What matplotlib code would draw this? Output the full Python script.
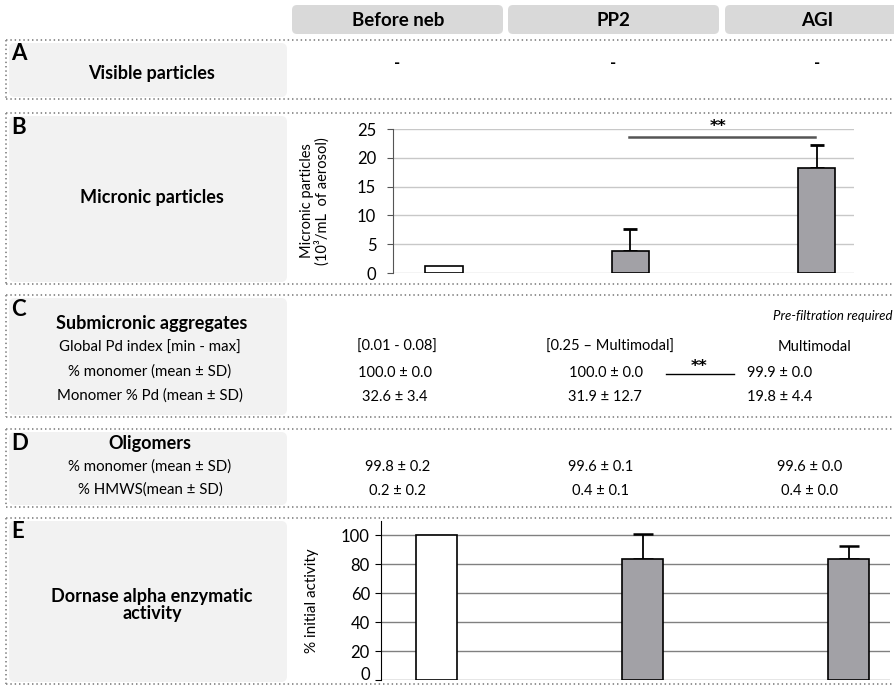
import numpy as np
import matplotlib.pyplot as plt
from matplotlib.patches import FancyBboxPatch
from matplotlib.lines import Line2D

plt.rcParams['font.family'] = ['Lato', 'DejaVu Sans']

groups = ["Before neb", "PP2", "AGI"]
visible = ["-", "-", "-"]
micronic_mean = [1.2, 3.8, 18.2]
micronic_sd = [0.0, 3.8, 4.0]
pd_index = ["[0.01 - 0.08]", "[0.25 – Multimodal]", "Multimodal"]
sub_monomer = ["100.0 ± 0.0", "100.0 ± 0.0", "99.9 ± 0.0"]
sub_pd = ["32.6 ± 3.4", "31.9 ± 12.7", "19.8 ± 4.4"]
olig_monomer = ["99.8 ± 0.2", "99.6 ± 0.1", "99.6 ± 0.0"]
olig_hmws = ["0.2 ± 0.2", "0.4 ± 0.1", "0.4 ± 0.0"]
activity_mean = [100, 84, 84]
activity_sd = [0.0, 16.7, 9.0]

W, H = 895, 686
fig = plt.figure(figsize=(W / 100, H / 100), dpi=100)
bg = fig.add_axes([0, 0, 1, 1])
bg.set_xlim(0, W)
bg.set_ylim(H, 0)
bg.axis('off')

# header boxes
for (x0, x1), xc, name in zip([(292, 503), (508, 719), (725, 915)], [398, 613, 817], groups):
    bg.add_patch(FancyBboxPatch((x0, 5), x1 - x0, 29, boxstyle="round,pad=0,rounding_size=5",
                                fc='#d9d9d9', ec='none'))
    bg.text(xc, 20, name, ha='center', va='center', fontsize=13.5, fontweight='bold')

# sections: (letter, top, bottom, title, title_y)
sections = [("A", 40, 99, "Visible particles", 73),
            ("B", 113, 284, "Micronic particles", 197),
            ("C", 295, 417, None, None),
            ("D", 429, 507, None, None),
            ("E", 518, 684, "Dornase alpha enzymatic\nactivity", 605)]
for letter, top, bot, title, ty in sections:
    dot = dict(color='#8a8a8a', lw=1.3, ls=(0, (0.8, 1.6)))
    bg.add_line(Line2D([6, W], [top, top], **dot))
    bg.add_line(Line2D([6, W], [bot, bot], **dot))
    bg.add_line(Line2D([6, 6], [top, bot], **dot))
    bg.add_patch(FancyBboxPatch((9, top + 3), 278, bot - top - 5,
                                boxstyle="round,pad=0,rounding_size=6", fc='#f2f2f2', ec='none'))
    bg.text(11, top + 14, letter, ha='left', va='center', fontsize=16, fontweight='bold')
    if title:
        bg.text(152, ty, title, ha='center', va='center', fontsize=13, fontweight='bold',
                linespacing=1.05)

# A
for x, v in zip([397, 613, 817], visible):
    bg.text(x, 63, v, ha='center', va='center', fontsize=12, fontweight='bold')

# C
bg.text(152, 323, "Submicronic aggregates", ha='center', va='center', fontsize=13, fontweight='bold')
for y, lab in zip([348, 372, 396], ["Global Pd index [min - max]", "% monomer (mean ± SD)",
                                    "Monomer % Pd (mean ± SD)"]):
    bg.text(150, y, lab, ha='center', va='center', fontsize=10.8)
bg.text(893, 316, "Pre-filtration required", ha='right', va='center', fontsize=9.5, style='italic')
for xs, y, vals in [([397, 610, 815], 347, pd_index),
                    ([395, 606, 780], 373, sub_monomer),
                    ([395, 605, 780], 397, sub_pd)]:
    for x, v in zip(xs, vals):
        bg.text(x, y, v, ha='center', va='center', fontsize=10.5)
bg.add_line(Line2D([666, 734], [374, 374], color='black', lw=1))
bg.text(699, 366, "**", ha='center', va='center', fontsize=11.5, fontweight='bold',
        family='DejaVu Sans')

# D
bg.text(150, 443, "Oligomers", ha='center', va='center', fontsize=13, fontweight='bold')
bg.text(150, 467, "% monomer (mean ± SD)", ha='center', va='center', fontsize=10.8)
bg.text(150, 490, "% HMWS(mean ± SD)", ha='center', va='center', fontsize=10.8)
for xs, y, vals in [([398, 601, 810], 467, olig_monomer), ([398, 601, 810], 491, olig_hmws)]:
    for x, v in zip(xs, vals):
        bg.text(x, y, v, ha='center', va='center', fontsize=10.5)

pos = np.arange(3)
bar_colors = ['white', '#a2a1a6', '#a2a1a6']


def px_axes(left, right, top, bottom):
    return fig.add_axes([left / W, 1 - bottom / H, (right - left) / W, (bottom - top) / H])


# B chart
axb = px_axes(393, 854, 129, 273)
axb.set_facecolor('none')
axb.bar(pos, micronic_mean, width=0.2, color=bar_colors, edgecolor='black', lw=1.2, zorder=3)
axb.errorbar(pos[1:], micronic_mean[1:], yerr=[[0, 0], micronic_sd[1:]], fmt='none',
             ecolor='black', elinewidth=1.3, capsize=5, capthick=2, zorder=2)
axb.set_xlim(-0.274, 2.2)
axb.set_ylim(0, 25)
axb.set_yticks(range(0, 26, 5))
axb.yaxis.grid(True, color='#c8c8c8', lw=1)
axb.set_axisbelow(True)
axb.set_xticks([])
for s in ['top', 'right', 'bottom']:
    axb.spines[s].set_visible(False)
axb.spines['left'].set_color('#555555')
axb.tick_params(axis='y', length=4, color='#555555', labelsize=12, pad=8)
axb.set_ylabel("Micronic particles\n(10³/mL  of aerosol)", fontsize=10.5, labelpad=20,
               linespacing=1.0)
axb.plot([0.99, 1.99], [23.6, 23.6], color='#555555', lw=1.8, clip_on=False)
axb.text(1.47, 25.5, "**", ha='center', va='center', fontsize=11.5, fontweight='bold',
         family='DejaVu Sans')

# E chart
axe = px_axes(381, 890, 521, 680)
axe.set_facecolor('none')
axe.bar(pos, activity_mean, width=0.2, color=bar_colors, edgecolor='black', lw=1.2, zorder=3)
axe.errorbar(pos[1:], activity_mean[1:], yerr=[[0, 0], activity_sd[1:]], fmt='none',
             ecolor='black', elinewidth=1.3, capsize=7.5, capthick=1.8, zorder=2)
axe.set_xlim(-0.27, 2.2)
axe.set_ylim(0, 110)
axe.set_yticks(range(0, 101, 20))
axe.yaxis.grid(True, color='#808080', lw=1)
axe.set_axisbelow(True)
axe.set_xticks([])
for s in ['top', 'right', 'bottom']:
    axe.spines[s].set_visible(False)
axe.tick_params(axis='y', length=4, labelsize=12, pad=4)
ylabs = axe.get_yticklabels()
for lab in ylabs:
    lab.set_verticalalignment('center_baseline')
ylabs[0].set_verticalalignment('baseline')
axe.set_ylabel("% initial activity", fontsize=11, labelpad=16)

fig.savefig('out.png', dpi=100)
